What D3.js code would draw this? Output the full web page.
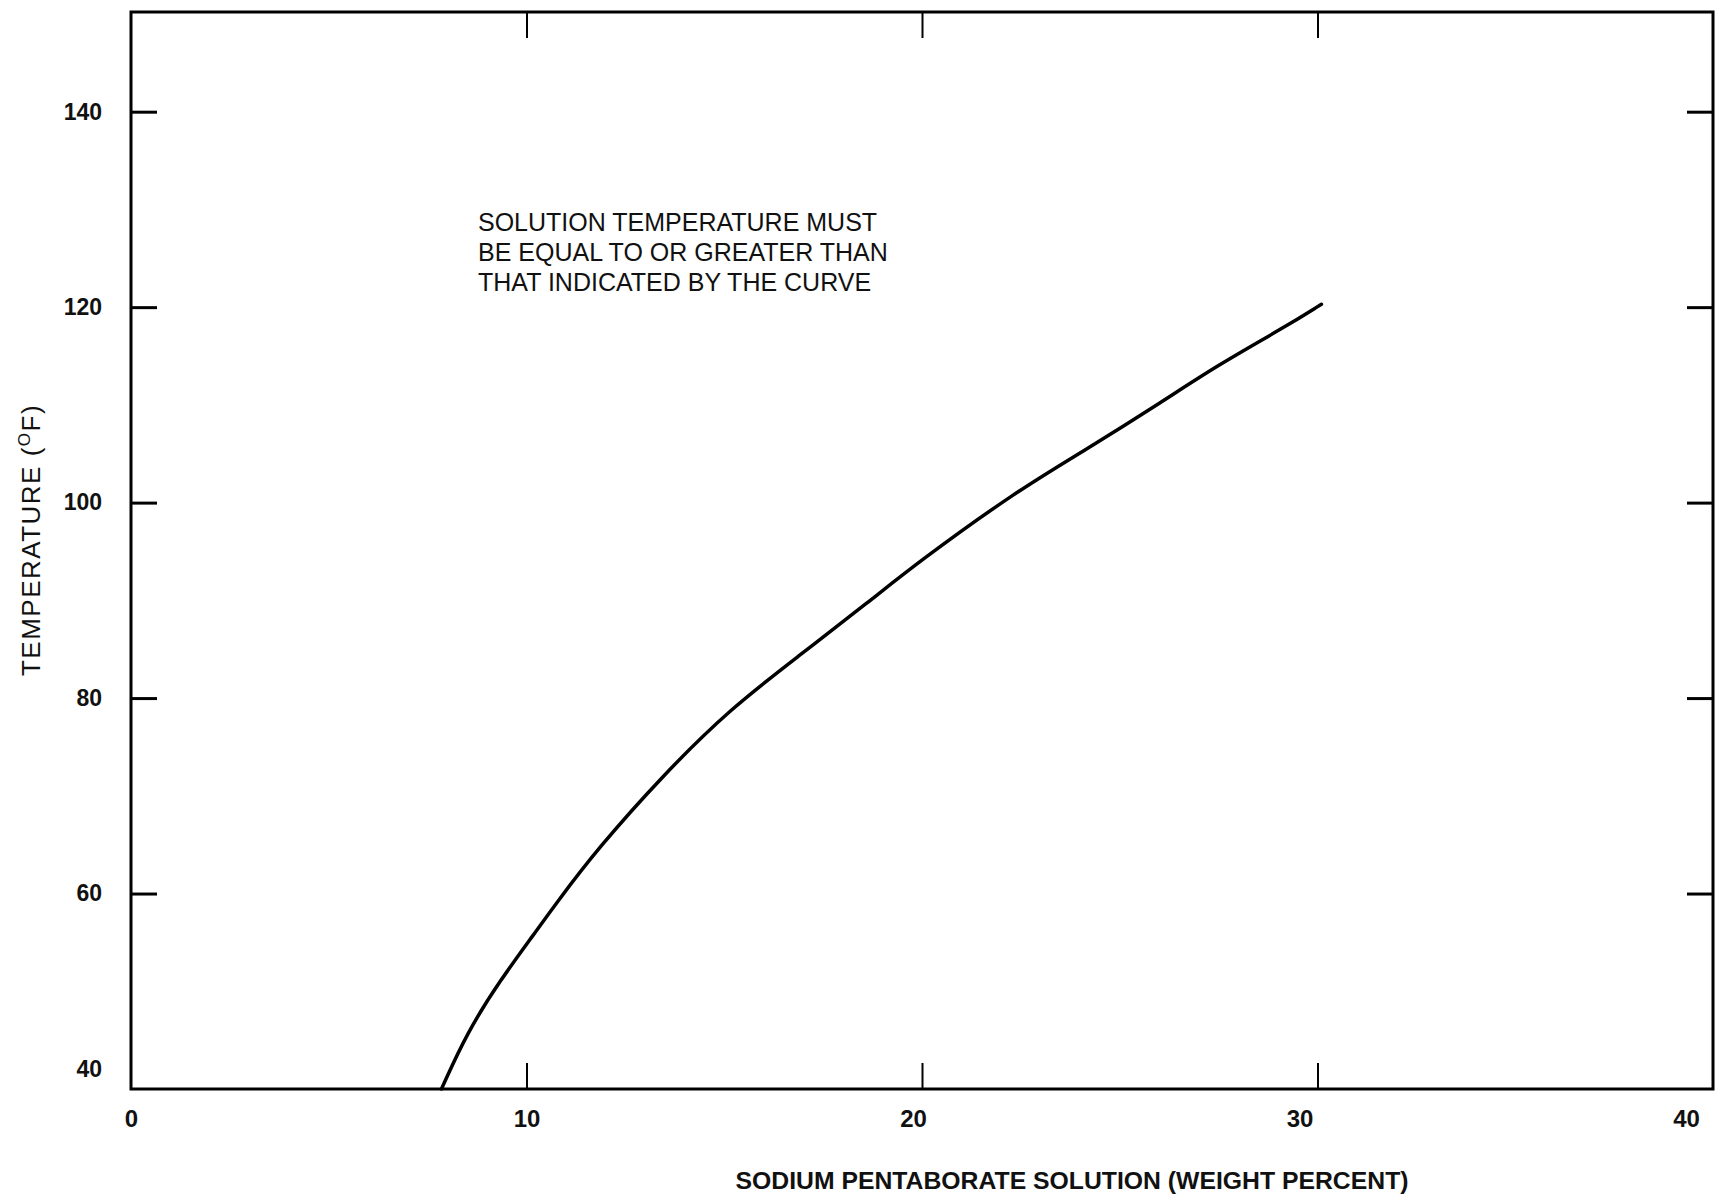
<!DOCTYPE html>
<html>
<head>
<meta charset="utf-8">
<script src="https://cdn.jsdelivr.net/npm/d3@7"></script>
<style>
  body { margin: 0; background: #fff; }
  svg { display: block; }
  .tick text { fill: #111; }
</style>
</head>
<body>
<div id="chart"></div>
<script>
// curve (weight percent vs minimum temperature)
var weightPercent = [7.85, 8.5, 9.33, 10.2, 10.75, 11.8, 13.45, 15.15, 16.85, 18.7, 19.9, 22.4, 24.1, 26.1, 27.45, 29.15, 30.1];
var temperatureF  = [40, 45.8, 51.1, 55.9, 59.0, 64.6, 72.1, 78.9, 84.2, 90.0, 93.9, 101.2, 105.3, 110.4, 114.0, 117.9, 120.3];

var xTicks = [0, 10, 20, 30, 40];
var yTicks = [40, 60, 80, 100, 120, 140];
var noteLines = [
  "SOLUTION TEMPERATURE MUST",
  "BE EQUAL TO OR GREATER THAN",
  "THAT INDICATED BY THE CURVE"
];
var xTitle = "SODIUM PENTABORATE SOLUTION (WEIGHT PERCENT)";

function drawChart() {
  var W = 1715, H = 1195;
  // plot box edges (not "top" - that name is taken by window.top)
  var boxLeft = 131, boxRight = 1713, boxTop = 12, boxBottom = 1089;
  var tickLen = 26;

  var svg = d3.select("#chart").append("svg")
    .attr("width", W)
    .attr("height", H);

  svg.append("rect").attr("width", W).attr("height", H).attr("fill", "#fff");

  var x = d3.scaleLinear().domain([0, 40]).range([boxLeft, boxRight]);
  var y = d3.scaleLinear().domain([40, 150.2]).range([boxBottom, boxTop]);

  // frame
  svg.append("rect")
    .attr("x", boxLeft).attr("y", boxTop)
    .attr("width", boxRight - boxLeft).attr("height", boxBottom - boxTop)
    .attr("fill", "none")
    .attr("stroke", "#000")
    .attr("stroke-width", 3);

  // bottom axis - labels and inward ticks
  var xAxis = svg.append("g")
    .attr("transform", "translate(0," + boxBottom + ")")
    .call(d3.axisBottom(x).tickValues(xTicks).tickSize(-tickLen).tickPadding(21));
  xAxis.select(".domain").remove();
  xAxis.selectAll(".tick line")
    .attr("stroke", "#000").attr("stroke-width", 2)
    .attr("display", function(d) { return (d == 0 || d == 40) ? "none" : null; });
  xAxis.selectAll(".tick text")
    .attr("font-family", "'Liberation Sans Narrow', 'Arial Narrow', 'Liberation Sans', sans-serif")
    .attr("font-weight", "bold")
    .attr("font-size", 24)
    .attr("dx", function(d) { return -Math.max(0, d - 10) * 0.9; });

  // top axis - ticks only
  var topAxis = svg.append("g")
    .attr("transform", "translate(0," + boxTop + ")")
    .call(d3.axisTop(x).tickValues([10, 20, 30]).tickSize(-tickLen).tickFormat(""));
  topAxis.select(".domain").remove();
  topAxis.selectAll(".tick line").attr("stroke", "#000").attr("stroke-width", 2);

  // left axis
  var yAxis = svg.append("g")
    .attr("transform", "translate(" + boxLeft + ",0)")
    .call(d3.axisLeft(y).tickValues(yTicks).tickSize(-tickLen).tickPadding(29));
  yAxis.select(".domain").remove();
  yAxis.selectAll(".tick line")
    .attr("stroke", "#000").attr("stroke-width", 3)
    .attr("display", function(d) { return d == 40 ? "none" : null; });
  yAxis.selectAll(".tick text")
    .attr("font-family", "'Liberation Sans', Arial, sans-serif")
    .attr("font-weight", "bold")
    .attr("font-size", 23)
    .attr("dy", function(d) { return d == 40 ? "-0.55em" : "0.32em"; });

  // right axis - ticks only
  var rightAxis = svg.append("g")
    .attr("transform", "translate(" + boxRight + ",0)")
    .call(d3.axisRight(y).tickValues([60, 80, 100, 120, 140]).tickSize(-tickLen).tickFormat(""));
  rightAxis.select(".domain").remove();
  rightAxis.selectAll(".tick line").attr("stroke", "#000").attr("stroke-width", 3);

  // the curve
  var points = weightPercent.map(function(d, i) { return [d, temperatureF[i]]; });
  var line = d3.line()
    .x(function(d) { return x(d[0]); })
    .y(function(d) { return y(d[1]); })
    .curve(d3.curveBasis);

  svg.append("path")
    .datum(points)
    .attr("d", line)
    .attr("fill", "none")
    .attr("stroke", "#000")
    .attr("stroke-width", 3.5)
    .attr("stroke-linecap", "round");

  // note in plot
  var note = svg.append("text")
    .attr("x", 478)
    .attr("y", 231)
    .attr("font-family", "'Liberation Sans', Arial, sans-serif")
    .attr("font-size", 25)
    .attr("fill", "#111");
  note.selectAll("tspan")
    .data(noteLines)
    .enter()
    .append("tspan")
      .attr("x", 478)
      .attr("dy", function(d, i) { return i == 0 ? 0 : 30; })
      .text(function(d) { return d; });

  // y title
  var yTitle = svg.append("text")
    .attr("transform", "translate(40,540) rotate(-90)")
    .attr("text-anchor", "middle")
    .attr("font-family", "'Liberation Sans', Arial, sans-serif")
    .attr("font-size", 26)
    .attr("letter-spacing", 1.5)
    .attr("fill", "#111");
  yTitle.append("tspan").text("TEMPERATURE (");
  yTitle.append("tspan").attr("font-size", 17).attr("dy", -10).text("O");
  yTitle.append("tspan").attr("dy", 10).text("F)");

  // x title
  svg.append("text")
    .attr("x", 1072)
    .attr("y", 1189)
    .attr("text-anchor", "middle")
    .attr("font-family", "'Liberation Sans Narrow', 'Arial Narrow', 'Liberation Sans', sans-serif")
    .attr("font-weight", "bold")
    .attr("font-size", 24)
    .attr("textLength", 673)
    .attr("lengthAdjust", "spacingAndGlyphs")
    .attr("fill", "#111")
    .text(xTitle);
}

drawChart();
</script>
</body>
</html>
